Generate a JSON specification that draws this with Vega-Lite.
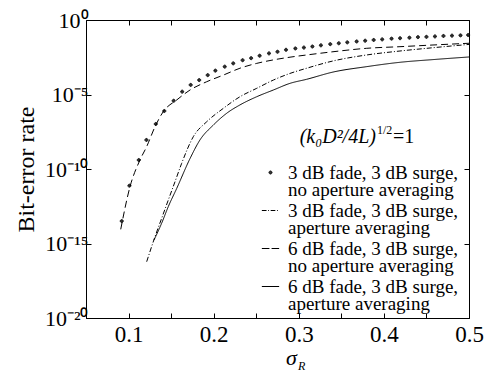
{
  "$schema": "https://vega.github.io/schema/vega-lite/v6.json",
  "width": 383,
  "height": 298,
  "autosize": {"type": "none"},
  "padding": {"left": 86, "top": 20, "right": 27, "bottom": 54},
  "background": "white",
  "config": {
    "font": "Liberation Serif",
    "view": {"stroke": "black", "strokeWidth": 1},
    "style": {
      "guide-label": {"font": "Liberation Serif", "fill": "black", "lineHeight": 17.8},
      "guide-title": {"font": "Liberation Serif", "fill": "black", "fontWeight": "normal"}
    },
    "text": {"font": "Liberation Serif"},
    "axis": {
      "domain": false, "grid": false, "ticks": true, "tickColor": "black", "tickSize": -5, "tickWidth": 1,
      "labelColor": "black", "labelFont": "Liberation Serif", "titleColor": "black", "titleFont": "Liberation Serif",
      "titleFontWeight": "normal", "labelFlush": false, "labelOverlap": false
    },
    "legend": {"labelFont": "Liberation Serif"}
  },
  "data": {"values": [
    {"series": "3 dB fade, 3 dB surge, no aperture averaging", "sigma": 0.092, "ber": 3.2e-14},
    {"series": "3 dB fade, 3 dB surge, no aperture averaging", "sigma": 0.101, "ber": 7.6e-12},
    {"series": "3 dB fade, 3 dB surge, no aperture averaging", "sigma": 0.112, "ber": 4.0e-10},
    {"series": "3 dB fade, 3 dB surge, no aperture averaging", "sigma": 0.121, "ber": 8.9e-9},
    {"series": "3 dB fade, 3 dB surge, no aperture averaging", "sigma": 0.132, "ber": 1.05e-7},
    {"series": "3 dB fade, 3 dB surge, no aperture averaging", "sigma": 0.142, "ber": 7.8e-7},
    {"series": "3 dB fade, 3 dB surge, no aperture averaging", "sigma": 0.153, "ber": 3.8e-6},
    {"series": "3 dB fade, 3 dB surge, no aperture averaging", "sigma": 0.163, "ber": 1.55e-5},
    {"series": "3 dB fade, 3 dB surge, no aperture averaging", "sigma": 0.173, "ber": 4.4e-5},
    {"series": "3 dB fade, 3 dB surge, no aperture averaging", "sigma": 0.183, "ber": 9.3e-5},
    {"series": "3 dB fade, 3 dB surge, no aperture averaging", "sigma": 0.193, "ber": 2.0e-4},
    {"series": "3 dB fade, 3 dB surge, no aperture averaging", "sigma": 0.202, "ber": 4.0e-4},
    {"series": "3 dB fade, 3 dB surge, no aperture averaging", "sigma": 0.213, "ber": 7.4e-4},
    {"series": "3 dB fade, 3 dB surge, no aperture averaging", "sigma": 0.223, "ber": 1.23e-3},
    {"series": "3 dB fade, 3 dB surge, no aperture averaging", "sigma": 0.234, "ber": 2.0e-3},
    {"series": "3 dB fade, 3 dB surge, no aperture averaging", "sigma": 0.244, "ber": 2.75e-3},
    {"series": "3 dB fade, 3 dB surge, no aperture averaging", "sigma": 0.254, "ber": 4.0e-3},
    {"series": "3 dB fade, 3 dB surge, no aperture averaging", "sigma": 0.265, "ber": 5.75e-3},
    {"series": "3 dB fade, 3 dB surge, no aperture averaging", "sigma": 0.275, "ber": 7.4e-3},
    {"series": "3 dB fade, 3 dB surge, no aperture averaging", "sigma": 0.285, "ber": 1.0e-2},
    {"series": "3 dB fade, 3 dB surge, no aperture averaging", "sigma": 0.296, "ber": 1.23e-2},
    {"series": "3 dB fade, 3 dB surge, no aperture averaging", "sigma": 0.306, "ber": 1.41e-2},
    {"series": "3 dB fade, 3 dB surge, no aperture averaging", "sigma": 0.316, "ber": 1.66e-2},
    {"series": "3 dB fade, 3 dB surge, no aperture averaging", "sigma": 0.326, "ber": 2.0e-2},
    {"series": "3 dB fade, 3 dB surge, no aperture averaging", "sigma": 0.337, "ber": 2.4e-2},
    {"series": "3 dB fade, 3 dB surge, no aperture averaging", "sigma": 0.347, "ber": 2.75e-2},
    {"series": "3 dB fade, 3 dB surge, no aperture averaging", "sigma": 0.357, "ber": 3.16e-2},
    {"series": "3 dB fade, 3 dB surge, no aperture averaging", "sigma": 0.368, "ber": 3.63e-2},
    {"series": "3 dB fade, 3 dB surge, no aperture averaging", "sigma": 0.378, "ber": 4.07e-2},
    {"series": "3 dB fade, 3 dB surge, no aperture averaging", "sigma": 0.388, "ber": 4.57e-2},
    {"series": "3 dB fade, 3 dB surge, no aperture averaging", "sigma": 0.398, "ber": 5.0e-2},
    {"series": "3 dB fade, 3 dB surge, no aperture averaging", "sigma": 0.409, "ber": 5.6e-2},
    {"series": "3 dB fade, 3 dB surge, no aperture averaging", "sigma": 0.419, "ber": 6.0e-2},
    {"series": "3 dB fade, 3 dB surge, no aperture averaging", "sigma": 0.430, "ber": 6.5e-2},
    {"series": "3 dB fade, 3 dB surge, no aperture averaging", "sigma": 0.440, "ber": 7.1e-2},
    {"series": "3 dB fade, 3 dB surge, no aperture averaging", "sigma": 0.450, "ber": 7.4e-2},
    {"series": "3 dB fade, 3 dB surge, no aperture averaging", "sigma": 0.460, "ber": 7.9e-2},
    {"series": "3 dB fade, 3 dB surge, no aperture averaging", "sigma": 0.470, "ber": 8.5e-2},
    {"series": "3 dB fade, 3 dB surge, no aperture averaging", "sigma": 0.480, "ber": 8.9e-2},
    {"series": "3 dB fade, 3 dB surge, no aperture averaging", "sigma": 0.490, "ber": 9.3e-2},
    {"series": "3 dB fade, 3 dB surge, no aperture averaging", "sigma": 0.499, "ber": 9.8e-2},
    {"series": "3 dB fade, 3 dB surge, aperture averaging", "sigma": 0.1213, "ber": 6.0e-17},
    {"series": "3 dB fade, 3 dB surge, aperture averaging", "sigma": 0.1311, "ber": 2.9e-15},
    {"series": "3 dB fade, 3 dB surge, aperture averaging", "sigma": 0.1389, "ber": 4.9e-14},
    {"series": "3 dB fade, 3 dB surge, aperture averaging", "sigma": 0.1467, "ber": 8.3e-13},
    {"series": "3 dB fade, 3 dB surge, aperture averaging", "sigma": 0.1546, "ber": 1.41e-11},
    {"series": "3 dB fade, 3 dB surge, aperture averaging", "sigma": 0.1624, "ber": 2.4e-10},
    {"series": "3 dB fade, 3 dB surge, aperture averaging", "sigma": 0.1761, "ber": 1.48e-8},
    {"series": "3 dB fade, 3 dB surge, aperture averaging", "sigma": 0.1918, "ber": 1.48e-7},
    {"series": "3 dB fade, 3 dB surge, aperture averaging", "sigma": 0.2113, "ber": 1.17e-6},
    {"series": "3 dB fade, 3 dB surge, aperture averaging", "sigma": 0.2309, "ber": 7.1e-6},
    {"series": "3 dB fade, 3 dB surge, aperture averaging", "sigma": 0.2506, "ber": 2.6e-5},
    {"series": "3 dB fade, 3 dB surge, aperture averaging", "sigma": 0.2701, "ber": 9.3e-5},
    {"series": "3 dB fade, 3 dB surge, aperture averaging", "sigma": 0.2897, "ber": 2.6e-4},
    {"series": "3 dB fade, 3 dB surge, aperture averaging", "sigma": 0.3093, "ber": 5.8e-4},
    {"series": "3 dB fade, 3 dB surge, aperture averaging", "sigma": 0.3402, "ber": 1.78e-3},
    {"series": "3 dB fade, 3 dB surge, aperture averaging", "sigma": 0.3798, "ber": 4.5e-3},
    {"series": "3 dB fade, 3 dB surge, aperture averaging", "sigma": 0.4189, "ber": 8.3e-3},
    {"series": "3 dB fade, 3 dB surge, aperture averaging", "sigma": 0.4577, "ber": 1.38e-2},
    {"series": "3 dB fade, 3 dB surge, aperture averaging", "sigma": 0.5, "ber": 2.3e-2},
    {"series": "6 dB fade, 3 dB surge, no aperture averaging", "sigma": 0.0908, "ber": 8.9e-15},
    {"series": "6 dB fade, 3 dB surge, no aperture averaging", "sigma": 0.1017, "ber": 6.5e-12},
    {"series": "6 dB fade, 3 dB surge, no aperture averaging", "sigma": 0.1134, "ber": 4.0e-10},
    {"series": "6 dB fade, 3 dB surge, no aperture averaging", "sigma": 0.1213, "ber": 3.2e-9},
    {"series": "6 dB fade, 3 dB surge, no aperture averaging", "sigma": 0.1311, "ber": 6.9e-8},
    {"series": "6 dB fade, 3 dB surge, no aperture averaging", "sigma": 0.1408, "ber": 7.1e-7},
    {"series": "6 dB fade, 3 dB surge, no aperture averaging", "sigma": 0.1566, "ber": 4.3e-6},
    {"series": "6 dB fade, 3 dB surge, no aperture averaging", "sigma": 0.1722, "ber": 2.0e-5},
    {"series": "6 dB fade, 3 dB surge, no aperture averaging", "sigma": 0.1918, "ber": 7.2e-5},
    {"series": "6 dB fade, 3 dB surge, no aperture averaging", "sigma": 0.2113, "ber": 2.0e-4},
    {"series": "6 dB fade, 3 dB surge, no aperture averaging", "sigma": 0.2309, "ber": 5.8e-4},
    {"series": "6 dB fade, 3 dB surge, no aperture averaging", "sigma": 0.2506, "ber": 1.23e-3},
    {"series": "6 dB fade, 3 dB surge, no aperture averaging", "sigma": 0.2701, "ber": 2.1e-3},
    {"series": "6 dB fade, 3 dB surge, no aperture averaging", "sigma": 0.2897, "ber": 3.2e-3},
    {"series": "6 dB fade, 3 dB surge, no aperture averaging", "sigma": 0.3093, "ber": 4.5e-3},
    {"series": "6 dB fade, 3 dB surge, no aperture averaging", "sigma": 0.3402, "ber": 7.4e-3},
    {"series": "6 dB fade, 3 dB surge, no aperture averaging", "sigma": 0.3798, "ber": 1.26e-2},
    {"series": "6 dB fade, 3 dB surge, no aperture averaging", "sigma": 0.4189, "ber": 1.62e-2},
    {"series": "6 dB fade, 3 dB surge, no aperture averaging", "sigma": 0.4577, "ber": 2.1e-2},
    {"series": "6 dB fade, 3 dB surge, no aperture averaging", "sigma": 0.5, "ber": 2.75e-2},
    {"series": "6 dB fade, 3 dB surge, aperture averaging", "sigma": 0.1299, "ber": 1.7e-15},
    {"series": "6 dB fade, 3 dB surge, aperture averaging", "sigma": 0.1389, "ber": 2.3e-14},
    {"series": "6 dB fade, 3 dB surge, aperture averaging", "sigma": 0.1467, "ber": 3.0e-13},
    {"series": "6 dB fade, 3 dB surge, aperture averaging", "sigma": 0.1566, "ber": 5.0e-12},
    {"series": "6 dB fade, 3 dB surge, aperture averaging", "sigma": 0.1722, "ber": 5.0e-10},
    {"series": "6 dB fade, 3 dB surge, aperture averaging", "sigma": 0.1839, "ber": 8.9e-9},
    {"series": "6 dB fade, 3 dB surge, aperture averaging", "sigma": 0.1996, "ber": 8.9e-8},
    {"series": "6 dB fade, 3 dB surge, aperture averaging", "sigma": 0.2153, "ber": 5.5e-7},
    {"series": "6 dB fade, 3 dB surge, aperture averaging", "sigma": 0.2309, "ber": 2.0e-6},
    {"series": "6 dB fade, 3 dB surge, aperture averaging", "sigma": 0.2506, "ber": 7.1e-6},
    {"series": "6 dB fade, 3 dB surge, aperture averaging", "sigma": 0.2701, "ber": 2.0e-5},
    {"series": "6 dB fade, 3 dB surge, aperture averaging", "sigma": 0.2897, "ber": 5.6e-5},
    {"series": "6 dB fade, 3 dB surge, aperture averaging", "sigma": 0.3093, "ber": 1.05e-4},
    {"series": "6 dB fade, 3 dB surge, aperture averaging", "sigma": 0.3402, "ber": 3.2e-4},
    {"series": "6 dB fade, 3 dB surge, aperture averaging", "sigma": 0.3798, "ber": 7.4e-4},
    {"series": "6 dB fade, 3 dB surge, aperture averaging", "sigma": 0.4189, "ber": 1.45e-3},
    {"series": "6 dB fade, 3 dB surge, aperture averaging", "sigma": 0.4577, "ber": 2.2e-3},
    {"series": "6 dB fade, 3 dB surge, aperture averaging", "sigma": 0.5, "ber": 3.3e-3}
  ]},
  "resolve": {"axis": {"x": "independent", "y": "independent"}},
  "layer": [
    {
      "transform": [{"filter": "datum.series != '3 dB fade, 3 dB surge, no aperture averaging'"}],
      "mark": {"type": "line", "color": "black", "strokeWidth": 1, "interpolate": "monotone"},
      "encoding": {
        "x": {"field": "sigma", "type": "quantitative", "scale": {"domain": [0.05, 0.5], "nice": false, "zero": false},
          "axis": {"orient": "bottom", "values": [0.05, 0.1, 0.15, 0.2, 0.25, 0.3, 0.35, 0.4, 0.45, 0.5],
            "labelExpr": "round(datum.value*100) % 10 == 0 ? format(datum.value, '.1f') : ''",
            "labelFont": "Liberation Serif", "labelFontSize": 23, "labelPadding": 10,
            "title": "σ", "titleFont": "Liberation Serif", "titleFontSize": 22, "titleFontStyle": "italic", "titleX": 205, "titleY": 46, "titleBaseline": "alphabetic", "titleAlign": "center"}},
        "y": {"field": "ber", "type": "quantitative", "scale": {"type": "log", "domain": [1e-20, 1], "nice": false},
          "axis": {"orient": "left", "values": [1, 1e-5, 1e-10, 1e-15, 1e-20],
            "labelExpr": "['10⁰','10⁻⁵','10⁻¹⁰','10⁻¹⁵','10⁻²⁰'][round(-log(datum.value)/log(10)/5)]",
            "labelFont": "Liberation Serif", "labelFontSize": 22, "labelPadding": 3,
            "title": "Bit-error rate", "titleFont": "Liberation Serif", "titleFontSize": 24, "titlePadding": 6}},
        "strokeDash": {"field": "series", "type": "nominal",
          "scale": {"domain": ["3 dB fade, 3 dB surge, aperture averaging", "6 dB fade, 3 dB surge, no aperture averaging", "6 dB fade, 3 dB surge, aperture averaging"],
            "range": [[5, 2, 1, 2], [7, 4], [1, 0]]},
          "legend": null}
      }
    },
    {
      "transform": [{"filter": "datum.series == '3 dB fade, 3 dB surge, no aperture averaging'"}],
      "mark": {"type": "point", "filled": false, "color": "black", "strokeWidth": 1, "size": 49, "opacity": 1},
      "encoding": {
        "x": {"field": "sigma", "type": "quantitative",
          "axis": {"orient": "top", "values": [0.05, 0.1, 0.15, 0.2, 0.25, 0.3, 0.35, 0.4, 0.45, 0.5], "labels": false, "title": null}},
        "y": {"field": "ber", "type": "quantitative",
          "axis": {"orient": "right", "values": [1, 1e-5, 1e-10, 1e-15, 1e-20], "labels": false, "title": null}},
        "shape": {"field": "series", "type": "nominal",
          "scale": {"domain": ["3 dB fade, 3 dB surge, no aperture averaging", "3 dB fade, 3 dB surge, aperture averaging", "6 dB fade, 3 dB surge, no aperture averaging", "6 dB fade, 3 dB surge, aperture averaging"],
            "range": [
              "M-0.43,0A0.43,0.43 0 1,0 0.43,0A0.43,0.43 0 1,0 -0.43,0M-0.25,0A0.25,0.25 0 1,0 0.25,0A0.25,0.25 0 1,0 -0.25,0M-0.08,0A0.08,0.08 0 1,0 0.08,0A0.08,0.08 0 1,0 -0.08,0",
              "M-2.47,0H-1.13M-0.66,0H-0.42M0.05,0H1.38M1.85,0H2.09",
              "M-2.47,0H-0.31M0.31,0H2.47",
              "M-2.47,0H2.47"]},
          "legend": {"orient": "none", "legendX": 175, "legendY": 143, "title": null, "symbolSize": 49,
            "symbolStrokeColor": "black", "symbolStrokeWidth": 1, "symbolOpacity": 1,
            "labelFont": "Liberation Serif", "labelFontSize": 19, "labelLimit": 400, "labelOffset": 8, "labelColor": "black",
            "rowPadding": -6,
            "labelExpr": "[slice(datum.label, 0, 22), slice(datum.label, 23)]"}}
      }
    },
    {
      "data": {"values": [{}]},
      "mark": {"type": "text", "text": "(k₀D²/4L)", "align": "right", "baseline": "alphabetic", "fontSize": 20, "fontStyle": "italic", "font": "Liberation Serif", "color": "black"},
      "encoding": {
        "x": {"datum": 0.3907, "type": "quantitative", "axis": null},
        "y": {"datum": 5.56e-9, "type": "quantitative", "axis": null}
      }
    },
    {
      "data": {"values": [{}]},
      "mark": {"type": "text", "text": "1/2", "align": "left", "baseline": "alphabetic", "fontSize": 12, "font": "Liberation Serif", "color": "black"},
      "encoding": {
        "x": {"datum": 0.3919, "type": "quantitative", "axis": null},
        "y": {"datum": 2.24e-8, "type": "quantitative", "axis": null}
      }
    },
    {
      "data": {"values": [{}]},
      "mark": {"type": "text", "text": "=1", "align": "left", "baseline": "alphabetic", "fontSize": 20, "font": "Liberation Serif", "color": "black"},
      "encoding": {
        "x": {"datum": 0.4107, "type": "quantitative", "axis": null},
        "y": {"datum": 5.56e-9, "type": "quantitative", "axis": null}
      }
    },
    {
      "data": {"values": [{}]},
      "mark": {"type": "text", "text": "R", "align": "left", "baseline": "alphabetic", "fontSize": 12, "fontStyle": "italic", "font": "Liberation Serif", "color": "black"},
      "encoding": {
        "x": {"datum": 0.2991, "type": "quantitative", "axis": null},
        "y": {"datum": 3.2e-24, "type": "quantitative", "axis": null}
      }
    }
  ]
}
